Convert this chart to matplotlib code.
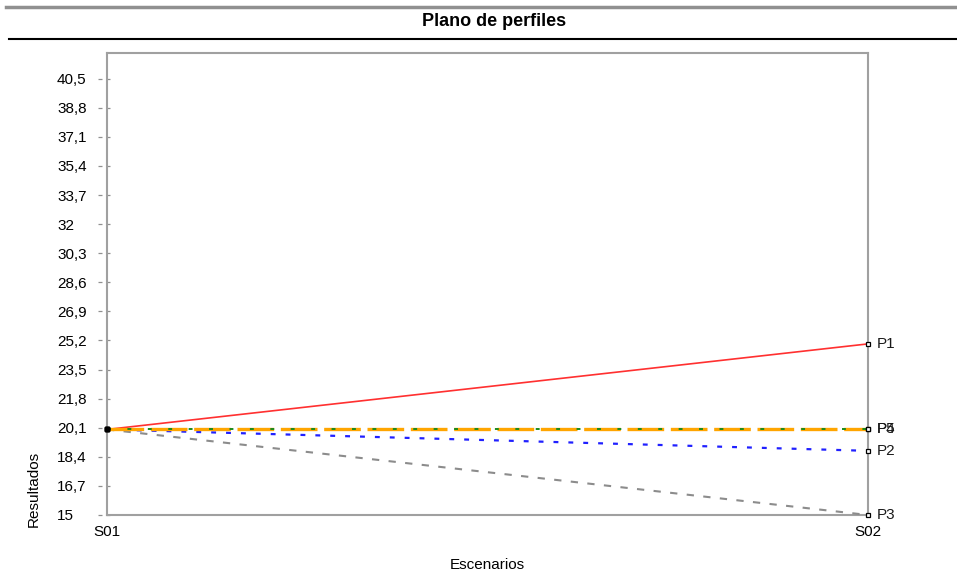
import matplotlib
matplotlib.use("Agg")
import matplotlib.pyplot as plt
from matplotlib.lines import Line2D
from matplotlib.transforms import blended_transform_factory

plt.rcParams['font.family'] = ['Liberation Sans', 'DejaVu Sans']

# Data
scenarios = ['S01', 'S02']
profiles = ['P1', 'P2', 'P3', 'P4', 'P5']
values = {
    'P1': [20.0, 25.0],
    'P2': [20.0, 18.75],
    'P3': [20.0, 15.0],
    'P4': [20.0, 20.0],
    'P5': [20.0, 20.0],
}
y_ticks = [15, 16.7, 18.4, 20.1, 21.8, 23.5, 25.2, 26.9, 28.6, 30.3,
           32, 33.7, 35.4, 37.1, 38.8, 40.5]

# line styles per profile
styles = {
    'P1': dict(color='#ff3030', linestyle='-', linewidth=1.2),
    'P2': dict(color='#2020ff', linestyle=(0, (2.2, 4.5)), linewidth=1.6),
    'P3': dict(color='#8c8c8c', linestyle=(0, (3.5, 4.5)), linewidth=1.5),
    'P5': dict(color='#ffa500', linestyle=(0, (11, 2)), linewidth=2.4),
    'P4': dict(color='#1a8a1a', linestyle=(0, (2, 8.5)), linewidth=1.4),
}

fig = plt.figure(figsize=(9.57, 5.71), dpi=100)
# axes box: x 107..868 px, y 53..515 px
ax = fig.add_axes([107 / 957, 1 - 515 / 571, 761 / 957, 462 / 571])

x = list(range(len(scenarios)))
for p in ['P1', 'P2', 'P3', 'P5', 'P4']:
    ax.plot(x, values[p], clip_on=False, zorder=3, **styles[p])
    # small square markers at the ends
    ax.plot(x[0], values[p][0], marker='s', markersize=3, color='black',
            linestyle='none', clip_on=False, zorder=5)
    ax.plot(x[1], values[p][1], marker='s', markersize=3.5, markerfacecolor='white',
            markeredgecolor='black', markeredgewidth=0.9, linestyle='none',
            clip_on=False, zorder=5)

# end labels
for p in ['P1', 'P2', 'P3', 'P5', 'P4']:
    ax.annotate(p, xy=(x[1], values[p][1]), xytext=(6, 0), textcoords='offset points',
                va='center', ha='left', fontsize=11, color='#1a1a1a',
                annotation_clip=False)

ax.set_xlim(0, 1)
ax.set_ylim(15, 42.0)
ax.set_xticks(x)
ax.set_xticklabels(scenarios, fontsize=11)
ax.set_yticks(y_ticks)
ax.set_yticklabels([str(v).replace('.', ',') for v in y_ticks], fontsize=11, ha='left')
ax.tick_params(axis='y', length=0, pad=36)
ax.tick_params(axis='x', length=0, pad=7)

for s in ax.spines.values():
    s.set_color('#a0a0a0')
    s.set_linewidth(1.5)

# dashed tick marks crossing the y axis
trans = blended_transform_factory(ax.transAxes, ax.transData)
for v in y_ticks:
    ax.plot([-0.0115, 0.0066], [v, v], transform=trans, color='#909090',
            linewidth=0.9, linestyle=(0, (3.2, 3.2)), clip_on=False, zorder=1)

ax.set_xlabel('Escenarios', fontsize=11, labelpad=14)
fig.text(34 / 957, 1 - 489 / 571, 'Resultados', rotation=90, ha='center',
         va='center', fontsize=11)

# title band
fig.text(494 / 957, 1 - 22 / 571, 'Plano de perfiles', ha='center', va='center',
         fontsize=13, fontweight='bold')
fig.add_artist(Line2D([6 / 957, 1.0], [1 - 7 / 571, 1 - 7 / 571], color='#909090', linewidth=2.5))
fig.add_artist(Line2D([9 / 957, 1.0], [1 - 39 / 571, 1 - 39 / 571], color='black', linewidth=1.5))

fig.savefig('out.png', dpi=100)
